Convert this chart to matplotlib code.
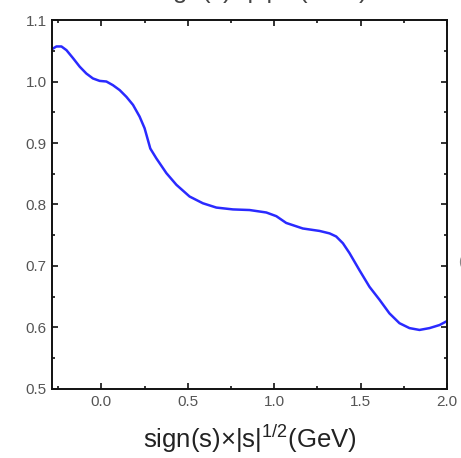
import matplotlib
matplotlib.use("Agg")
import matplotlib.pyplot as plt
from matplotlib.ticker import MultipleLocator, FormatStrFormatter

# sqrt-energy axis (GeV) and ratio values along the curve
x_vals = [-0.289, -0.260, -0.231, -0.202, -0.164, -0.125, -0.087, -0.049, -0.010,
          0.029, 0.067, 0.106, 0.145, 0.183, 0.221, 0.250, 0.269, 0.283,
          0.318, 0.376, 0.434, 0.510, 0.587, 0.665, 0.761, 0.857, 0.954, 1.012,
          1.069, 1.165, 1.262, 1.320, 1.358, 1.397, 1.435, 1.493, 1.551, 1.609,
          1.666, 1.724, 1.782, 1.840, 1.898, 1.956, 2.003]
y_vals = [1.052, 1.057, 1.057, 1.051, 1.038, 1.024, 1.013, 1.005, 1.001,
          1.000, 0.994, 0.986, 0.975, 0.962, 0.943, 0.924, 0.905, 0.891,
          0.875, 0.851, 0.832, 0.813, 0.802, 0.795, 0.792, 0.791, 0.787, 0.781,
          0.770, 0.761, 0.757, 0.753, 0.748, 0.737, 0.721, 0.693, 0.666, 0.645,
          0.623, 0.607, 0.599, 0.596, 0.599, 0.604, 0.611]

x_label = r"sign(s)$\times$|s|$^{1/2}$(GeV)"

plt.rcParams["font.family"] = ["Liberation Sans", "DejaVu Sans"]
plt.rcParams["mathtext.fontset"] = "custom"
plt.rcParams["mathtext.rm"] = "Liberation Sans"

fig = plt.figure(figsize=(4.61, 4.58), dpi=100)
ax = fig.add_axes([0.113, 0.1507, 0.857, 0.8056])

ax.plot(x_vals, y_vals, color="#2a2aff", lw=1.8, solid_capstyle="round",
        solid_joinstyle="round")

ax.set_xlim(-0.285, 2.0)
ax.set_ylim(0.5, 1.1)
ax.xaxis.set_major_locator(MultipleLocator(0.5))
ax.xaxis.set_minor_locator(MultipleLocator(0.25))
ax.yaxis.set_major_locator(MultipleLocator(0.1))
ax.yaxis.set_minor_locator(MultipleLocator(0.05))
ax.xaxis.set_major_formatter(FormatStrFormatter("%.1f"))
ax.yaxis.set_major_formatter(FormatStrFormatter("%.1f"))

ax.tick_params(which="both", direction="in", top=True, right=True,
               labeltop=False, labelright=False, width=1.2, color="#111111")
ax.tick_params(which="major", length=4, labelsize=11, labelcolor="#555555", pad=4)
ax.tick_params(which="minor", length=2.5)
for sp in ax.spines.values():
    sp.set_linewidth(1.4)
    sp.set_color("#111111")

ax.set_xlabel(x_label, fontsize=18.5, color="#222222", labelpad=10)

# neighbouring panel fragments
fig.text(0.565, 1.0 + 1.5 / 458, x_label, fontsize=18.5, color="#444444",
         ha="center", va="baseline")
fig.text(0.993, 0.428, "(", fontsize=10, color="#888888", ha="left", va="center")

fig.savefig("out.png", dpi=100)
